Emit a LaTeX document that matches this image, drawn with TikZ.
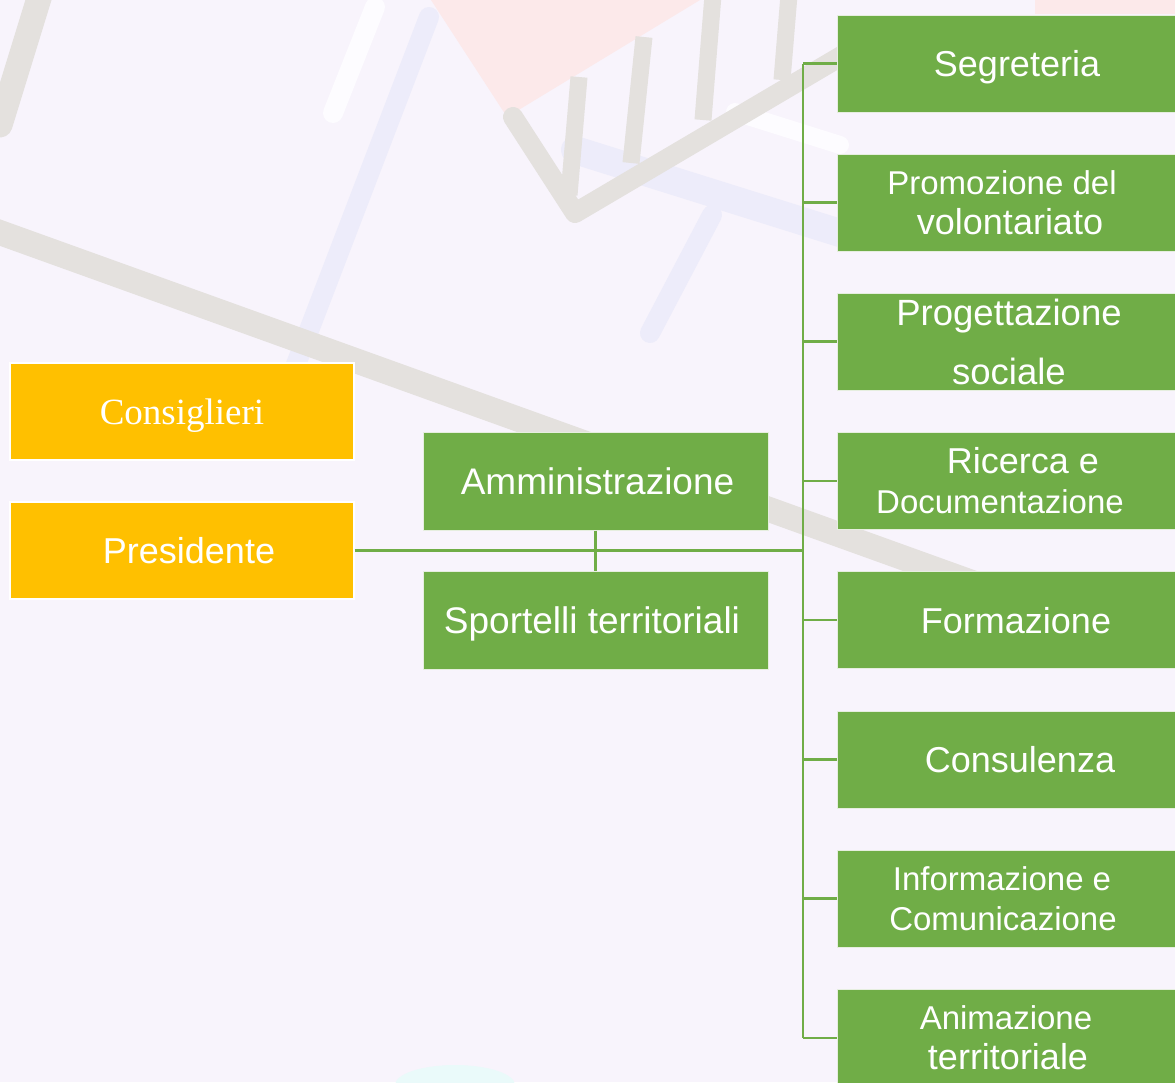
\documentclass[tikz,border=0pt]{standalone}
\usepackage{fontspec}
\setmainfont{Liberation Sans}
\newfontfamily\tnrfont{Liberation Serif}
\definecolor{bgc}{HTML}{F8F4FC}
\definecolor{wmgrey}{HTML}{E4E1DE}
\definecolor{wmlav}{HTML}{EDECFA}
\definecolor{wmpink}{HTML}{FCE9EA}
\definecolor{wmcyan}{HTML}{EAFAFA}
\definecolor{wmwhite}{HTML}{FDFCFF}
\definecolor{gold}{HTML}{FFC000}
\definecolor{leaf}{HTML}{70AD47}
\definecolor{leafedge}{HTML}{E6EEDF}
\tikzset{
  ybox/.style={fill=gold, draw=white, line width=1.2pt, minimum width=344pt, minimum height=97pt, inner sep=0pt, text=white, align=center, text depth=0pt},
  gbox/.style={fill=leaf, draw=leafedge, line width=1pt, minimum width=345pt, minimum height=98pt, inner sep=0pt, text=white, align=center},
  rbox/.style={gbox, minimum width=346pt, minimum height=97pt},
  single/.style={text depth=0pt},
  big/.style={font=\fontsize{36}{39}\selectfont, single},
  bigger/.style={font=\fontsize{37}{40}\selectfont, single},
  two/.style={font=\fontsize{33}{40}\selectfont},
  link/.style={draw=leaf, line width=2.4pt},
  mainlink/.style={draw=leaf, line width=3.4pt},
  wm/.style={line width=#1, line cap=round},
}
\newcommand{\bigline}[1]{{\fontsize{36}{40}\selectfont #1}}
\begin{document}
\begin{tikzpicture}[x=1pt,y=-1pt]
\useasboundingbox (0,0) rectangle (1175,1082);
\fill[bgc] (0,0) rectangle (1175,1082);
% watermark
\fill[wmpink] (431,0) -- (507,117) -- (700,0) -- cycle;
\fill[wmpink] (1035,0) -- (1175,0) -- (1175,14) -- (1035,14) -- cycle;
\draw[wm=20pt, wmlav] (429,17) -- (290,380);
\draw[wm=20pt, wmwhite] (375,7) -- (333,113);
\draw[wm=20pt, wmlav] (712,215) -- (650,333);
\draw[wm=28pt, wmlav] (575,150) -- (840,233);
\draw[wm=18pt, wmwhite] (735,112) -- (840,145);
\draw[wm=25pt, wmgrey] (-10,229) -- (1190,661);
\draw[wm=25pt, wmgrey] (0,125) -- (40,-5);
\draw[wm=20pt, wmgrey, line join=round] (513,117) -- (575,213) -- (860,45);
\draw[wm=17pt, wmgrey, line cap=butt] (579,77) -- (569,195);
\draw[wm=17pt, wmgrey, line cap=butt] (644,37) -- (631,163);
\draw[wm=17pt, wmgrey, line cap=butt] (713,-5) -- (703,120);
\draw[wm=17pt, wmgrey, line cap=butt] (789,-5) -- (782,80);
\fill[wmcyan] (455,1085) ellipse [x radius=60, y radius=20];
% left boxes
\node[ybox, font=\tnrfont\fontsize{37}{40}\selectfont] (cons) at (182,411.5) {Consiglieri};
\node[ybox, big] (pres) at (182,550.5) {\hspace{14pt}Presidente};
% middle boxes
\node[gbox, bigger] (amm) at (595.5,481) {\hspace{4pt}Amministrazione};
\node[gbox, bigger] (sport) at (595.5,620) {\hspace{-7pt}Sportelli territoriali};
% right boxes
\node[rbox, big] (seg) at (1010,63.5) {\hspace{14pt}Segreteria};
\node[rbox, two] (prom) at (1010,202.5) {\hspace{-16pt}Promozione del\\ \bigline{volontariato}};
\node[rbox, font=\fontsize{36.5}{59}\selectfont] (prog) at (1010,341.5) {\hspace{-2pt}Progettazione\\ \hspace{-2pt}sociale};
\node[rbox, two] (ric) at (1010,481) {\hspace{26pt}\bigline{Ricerca e}\\ \hspace{-20pt}Documentazione};
\node[rbox, big] (form) at (1010,620) {\hspace{12pt}Formazione};
\node[rbox, big] (cons2) at (1010,759.5) {\hspace{20pt}Consulenza};
\node[rbox, two] (info) at (1010,898.5) {\hspace{-16pt}Informazione e\\ \hspace{-14pt}Comunicazione};
\node[rbox, two] (anim) at (1010,1038) {\hspace{-8pt}Animazione\\ \hspace{-4pt}\bigline{territoriale}};
% connectors
\coordinate (trunk) at (803,0);
\draw[link] (seg.west -| trunk) -- (anim.west -| trunk);
\foreach \b in {seg,prom,prog,ric,form,cons2,info,anim}
  \draw[link] (\b.west -| trunk) -- (\b.west);
\draw[mainlink] (pres.east) -- (pres.east -| trunk);
\draw[link] (amm.south) -- (sport.north);
\end{tikzpicture}
\end{document}
